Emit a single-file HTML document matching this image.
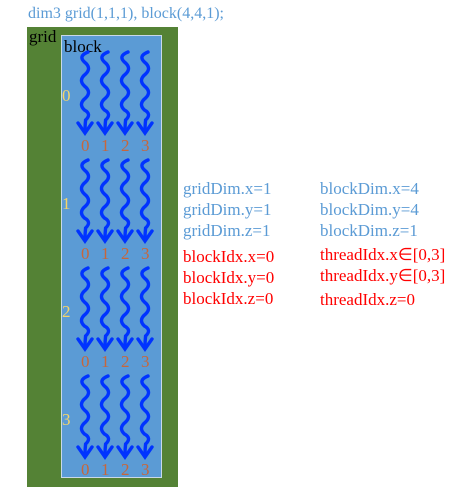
<!DOCTYPE html>
<html><head><meta charset="utf-8">
<style>
html,body{margin:0;padding:0;background:#fff;width:471px;height:496px;overflow:hidden;position:relative;font-family:"Liberation Serif",serif;}
.t{position:absolute;white-space:nowrap;font-size:17px;line-height:17px;}
.b{color:#5b9bd5}.r{color:#ff0000}
</style></head><body>
<div class="t b" style="left:28px;top:5px;font-size:16px;">dim3 grid(1,1,1), block(4,4,1);</div>
<div style="position:absolute;left:27px;top:27px;width:151px;height:460px;background:#548235;"></div>
<div class="t" style="left:29px;top:28px;font-size:17px;color:#000;">grid</div>
<div style="position:absolute;left:61px;top:35px;width:99px;height:441px;background:#5b9bd5;border:1px solid #c9d9e9;"></div>
<div class="t" style="left:64px;top:38px;font-size:17px;color:#000;">block</div>
<svg id="s" width="471" height="496" style="position:absolute;left:0;top:0"></svg>

<div class="t b" style="left:183px;top:180px">gridDim.x=1</div>
<div class="t b" style="left:183px;top:201px">gridDim.y=1</div>
<div class="t b" style="left:183px;top:222px">gridDim.z=1</div>
<div class="t r" style="left:183px;top:248px">blockIdx.x=0</div>
<div class="t r" style="left:183px;top:269px">blockIdx.y=0</div>
<div class="t r" style="left:183px;top:290px">blockIdx.z=0</div>
<div class="t b" style="left:320px;top:180px">blockDim.x=4</div>
<div class="t b" style="left:320px;top:201px">blockDim.y=4</div>
<div class="t b" style="left:320px;top:222px">blockDim.z=1</div>
<div class="t r" style="left:320px;top:246px">threadIdx.x∈[0,3]</div>
<div class="t r" style="left:320px;top:267px">threadIdx.y∈[0,3]</div>
<div class="t r" style="left:320px;top:291px">threadIdx.z=0</div>

<script>
const rows=[0,1,2,3];
const threadCols=[0,1,2,3];
const threadLabels=["0","1","2","3"];
const NS="http://www.w3.org/2000/svg";
const svg=document.getElementById('s');
const rowY=r=>52+r*108;
const colX=c=>85+c*20;
rows.forEach(r=>{
  const y0=rowY(r);
  const lab=document.createElementNS(NS,'text');
  
  
  lab.setAttribute('x',62);lab.setAttribute('y',y0+49);
  lab.setAttribute('fill','#f4d56a');lab.setAttribute('font-size','17');
  lab.setAttribute('font-family','Liberation Serif, serif');
  lab.textContent=String(r);svg.appendChild(lab);
  threadCols.forEach(c=>{
    const x=colX(c);
    let d=`M${x+3},${y0}`;
    const pts=[[-2,10],[2,22],[-2,34],[2,46],[-2,58],[2,68],[0,79]];
    pts.forEach(([dx,dy])=>{d+=` Q${x+dx*3.5},${y0+dy-6} ${x+dx*0.3},${y0+dy}`;});
    const p=document.createElementNS(NS,'path');
    
    
    p.setAttribute('d',d);p.setAttribute('fill','none');
    p.setAttribute('stroke','#0033ff');p.setAttribute('stroke-width','3.4');
    p.setAttribute('stroke-linecap','round');
    svg.appendChild(p);
    const h=document.createElementNS(NS,'path');
    
    
    h.setAttribute('d',`M${x-7},${y0+71} L${x},${y0+81} L${x+7},${y0+71}`);
    h.setAttribute('fill','none');h.setAttribute('stroke','#0033ff');
    h.setAttribute('stroke-width','3.4');h.setAttribute('stroke-linecap','round');
    svg.appendChild(h);
    const t=document.createElementNS(NS,'text');
    
    
    t.setAttribute('x',x-4);t.setAttribute('y',y0+99);
    t.setAttribute('fill','#c8663a');t.setAttribute('font-size','17');
    t.setAttribute('font-family','Liberation Serif, serif');
    t.textContent=threadLabels[c];svg.appendChild(t);
  });
});
</script>
</body></html>
